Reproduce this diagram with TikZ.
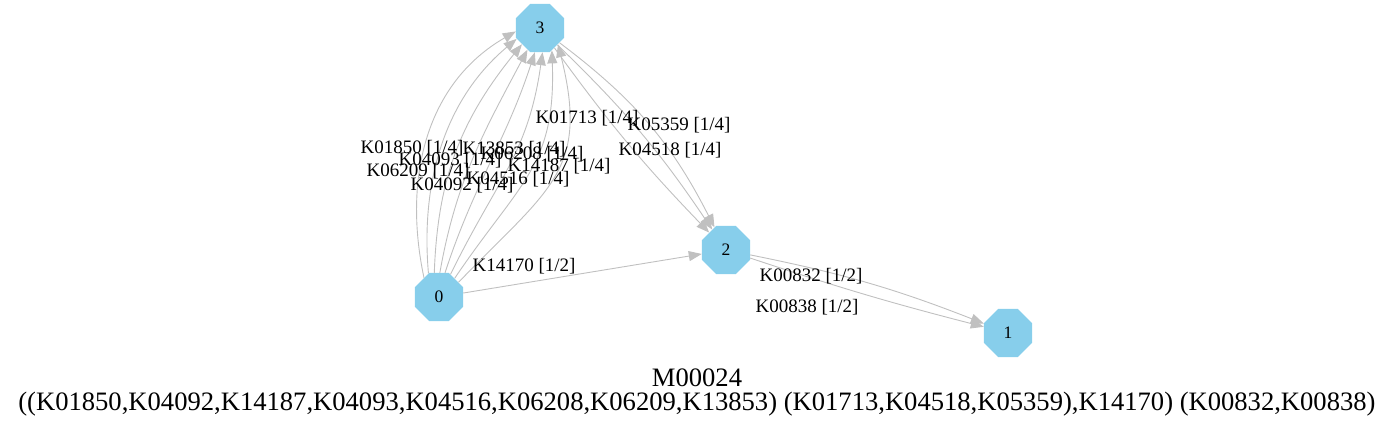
\documentclass[tikz,border=0pt]{standalone}
\usepackage{fontspec}
\setmainfont{Liberation Serif}
\usetikzlibrary{shapes.geometric,arrows.meta}
\definecolor{nodefill}{HTML}{87CEEB}
\definecolor{edgegray}{HTML}{C0C0C0}
\tikzset{
  state/.style={regular polygon, regular polygon sides=8, fill=nodefill, draw=none,
    minimum size=52pt, inner sep=0pt, font=\fontsize{17.5}{17.5}\selectfont},
  conn/.style={draw=edgegray, line width=0.9pt, -{Triangle[length=13pt,width=10pt]}},
  elabel/.style={font=\fontsize{19}{19}\selectfont, inner sep=0pt},
  titletext/.style={font=\fontsize{26.6}{26.6}\selectfont, inner sep=0pt},
}
\begin{document}
\begin{tikzpicture}[x=1pt,y=-1pt]
\useasboundingbox (0,0) rectangle (1393,426);
\node[state] (n3) at (540,28) {3};
\node[state] (n2) at (726,250) {2};
\node[state] (n0) at (439,297) {0};
\node[state] (n1) at (1008,333) {1};
% 0 -> 3
\draw[conn] (n0.128) to[out=102, in=210, looseness=1.0] (n3.188);
\draw[conn] (n0.114) to[out=95, in=220, looseness=0.95] (n3.205);
\draw[conn] (n0.101) to[out=88, in=231] (n3.222);
\draw[conn] (n0.88) to[out=80, in=242] (n3.240);
\draw[conn] (n0.76) to[out=72, in=252] (n3.258);
\draw[conn] (n0.63) to[out=64, in=262, looseness=1.1] (n3.276);
\draw[conn] (n0.50) to[out=56, in=272, looseness=1.2] (n3.298);
\draw[conn] (n0.37) to[out=46, in=284, looseness=1.3] (n3.318);
% 3 -> 2
\draw[conn] (n3) to[bend right=4] (n2);
\draw[conn] (n3) to[bend left=6] (n2);
\draw[conn] (n3) to[bend left=13] (n2);
% 0 -> 2
\draw[conn] (n0) -- (n2);
% 2 -> 1
\draw[conn] (n2) to[bend left=5] (n1);
\draw[conn] (n2) to[bend right=2] (n1);
% labels
\node[elabel] (l1) at (412,148) {K01850 [1/4]};
\node[elabel] (l2) at (514,149) {K13853 [1/4]};
\node[elabel] (l3) at (532,154) {K06208 [1/4]};
\node[elabel] (l4) at (450,160) {K04093 [1/4]};
\node[elabel] (l5) at (559,166) {K14187 [1/4]};
\node[elabel] (l6) at (418,171) {K06209 [1/4]};
\node[elabel] (l7) at (518,179) {K04516 [1/4]};
\node[elabel] (l8) at (462,185) {K04092 [1/4]};
\node[elabel] (l9) at (587,118) {K01713 [1/4]};
\node[elabel] (l10) at (679,125) {K05359 [1/4]};
\node[elabel] (l11) at (670,150) {K04518 [1/4]};
\node[elabel] (l12) at (524,266) {K14170 [1/2]};
\node[elabel] (l13) at (811,276) {K00832 [1/2]};
\node[elabel] (l14) at (807,307) {K00838 [1/2]};
\node[titletext] (t1) at (697,378) {M00024};
\node[titletext] (t2) at (697,404) {((K01850,K04092,K14187,K04093,K04516,K06208,K06209,K13853) (K01713,K04518,K05359),K14170) (K00832,K00838)};
\end{tikzpicture}
\end{document}
